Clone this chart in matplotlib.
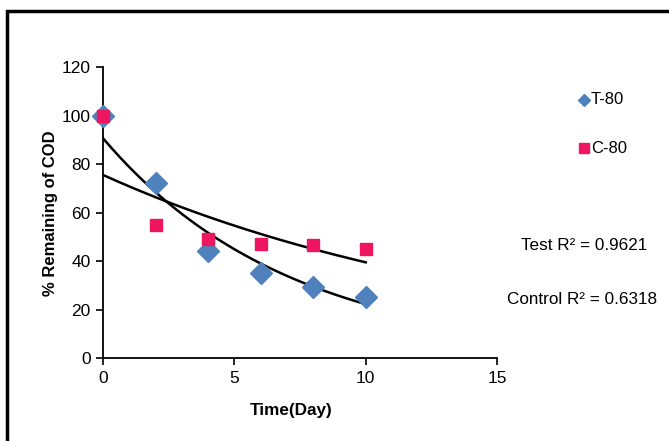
import numpy as np
import matplotlib
matplotlib.use("Agg")
import matplotlib.pyplot as plt
from matplotlib.patches import Rectangle

plt.rcParams['font.family'] = ['Liberation Sans', 'DejaVu Sans']

days = [0, 2, 4, 6, 8, 10]
t80 = [100, 72, 44, 35, 29.5, 25]
c80 = [100, 55, 49, 47, 46.5, 45]
x_ticks = [0, 5, 10, 15]
y_ticks = [0, 20, 40, 60, 80, 100, 120]
r2_test = "0.9621"
r2_control = "0.6318"

fig = plt.figure(figsize=(6.69, 4.41), dpi=100)
ax = fig.add_axes([0.154, 0.188, 0.589, 0.660])

blue = '#4F81BD'
red = '#EE1660'

x = np.array(days, dtype=float)
xs = np.linspace(0, 10, 200)
for ser in (t80, c80):
    b, a = np.polyfit(x, np.log(ser), 1)
    ax.plot(xs, np.exp(a + b * xs), color='black', lw=1.8, zorder=2)

ax.plot(days, t80, 'D', color=blue, ms=11, mec=blue, zorder=3, clip_on=False)
ax.plot(days, c80, 's', color=red, ms=9, mec=red, zorder=4, clip_on=False)

ax.set_xlim(0, 15)
ax.set_ylim(0, 120)
ax.set_xticks(x_ticks)
ax.set_yticks(y_ticks)
for s in ('top', 'right'):
    ax.spines[s].set_visible(False)
for s in ('left', 'bottom'):
    ax.spines[s].set_linewidth(1.3)
ax.tick_params(direction='out', length=5, width=1.2, labelsize=12.5, pad=4)
ax.set_xlabel('Time(Day)', fontsize=12.3, fontweight='bold')
ax.xaxis.set_label_coords((291 - 103) / 394, (358 - 410) / 291)
ax.xaxis.label.set_va('center')
ax.set_ylabel('% Remaining of COD', fontsize=12, fontweight='bold')
ax.yaxis.set_label_coords((50 - 103) / 394, (358 - 213) / 291)
ax.yaxis.label.set_va('center')

# legend
fig.lines.append(plt.Line2D([584/669], [1-100/441], marker='D', color=blue, ms=6, transform=fig.transFigure))
fig.text(591/669, 1-100/441, 'T-80', fontsize=12, va='center', ha='left')
fig.lines.append(plt.Line2D([584/669], [1-148/441], marker='s', color=red, ms=7, transform=fig.transFigure))
fig.text(591/669, 1-148/441, 'C-80', fontsize=12, va='center', ha='left')

fig.text(584/669, 1-245/441, 'Test R\u00b2 = ' + r2_test, fontsize=12.3, va='center', ha='center')
fig.text(582/669, 1-300/441, 'Control R\u00b2 = ' + r2_control, fontsize=12.3, va='center', ha='center')

# outer border
fig.patches.append(Rectangle((7/669, -0.2), 1.2, 1 - 11/441 + 0.2, transform=fig.transFigure,
                             fill=False, lw=2.5, ec='black'))

fig.savefig('out.png', dpi=100)
